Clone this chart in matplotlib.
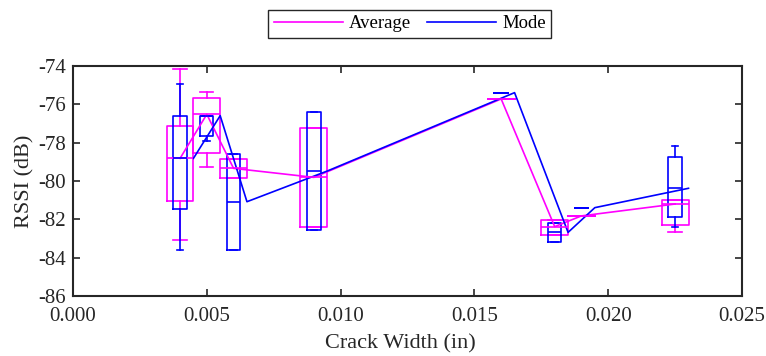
import matplotlib
matplotlib.use('Agg')
import matplotlib.pyplot as plt

# crack widths (in) for each group of measurements
widths = [0.004, 0.005, 0.006, 0.009, 0.016, 0.018, 0.019, 0.0225]

# Average RSSI boxes: whisker low, q1, median, q3, whisker high (dB)
avg_whislo = [-83.08, -79.25, -79.83, -82.42, -75.72, -82.82, -81.82, -82.66]
avg_q1     = [-81.04, -78.56, -79.83, -82.42, -75.72, -82.82, -81.82, -82.31]
avg_med    = [-78.82, -76.52, -79.34, -79.81, -75.72, -82.38, -81.82, -81.20]
avg_q3     = [-77.13, -75.65, -78.85, -77.25, -75.72, -82.03, -81.82, -81.01]
avg_whishi = [-74.16, -75.37, -78.85, -77.25, -75.72, -82.03, -81.82, -81.01]

# Mode RSSI boxes
mode_whislo = [-83.60, -77.90, -83.60, -82.57, -75.39, -83.20, -81.39, -82.38]
mode_q1     = [-81.48, -77.63, -83.60, -82.57, -75.39, -83.20, -81.39, -81.89]
mode_med    = [-78.82, -76.59, -81.08, -79.48, -75.39, -82.68, -81.39, -80.38]
mode_q3     = [-76.59, -76.59, -78.57, -76.38, -75.39, -82.17, -81.39, -78.73]
mode_whishi = [-74.96, -76.59, -78.57, -76.38, -75.39, -82.17, -81.39, -78.16]

# the mode line is drawn slightly to the right of the boxes
mode_shift = 0.0005

PINK = '#FF00FF'
BLUE = '#0000FF'
DARK = '#262626'


def make_stats(lo, q1, med, q3, hi):
    return [dict(whislo=a, q1=b, med=c, q3=d, whishi=e, fliers=[])
            for a, b, c, d, e in zip(lo, q1, med, q3, hi)]


plt.rcParams['font.family'] = ['Liberation Serif', 'DejaVu Serif']
plt.rcParams['axes.unicode_minus'] = False

fig = plt.figure(figsize=(7.66, 3.56), dpi=100)
ax = fig.add_axes([0.0953, 0.1685, 0.8734, 0.6461])

avg_stats = make_stats(avg_whislo, avg_q1, avg_med, avg_q3, avg_whishi)
mode_stats = make_stats(mode_whislo, mode_q1, mode_med, mode_q3, mode_whishi)

lw = 1.2
ax.bxp(avg_stats, positions=widths, widths=0.001, showfliers=False,
       manage_ticks=False,
       boxprops=dict(color=PINK, linewidth=lw),
       whiskerprops=dict(color=PINK, linewidth=lw),
       capprops=dict(color=PINK, linewidth=lw),
       medianprops=dict(color=PINK, linewidth=lw))
ax.bxp(mode_stats, positions=widths, widths=0.0005, showfliers=False,
       manage_ticks=False,
       boxprops=dict(color=BLUE, linewidth=lw),
       whiskerprops=dict(color=BLUE, linewidth=lw),
       capprops=dict(color=BLUE, linewidth=lw),
       medianprops=dict(color=BLUE, linewidth=lw))

ax.plot(widths, avg_med, color=PINK, linewidth=lw, label='Average')
ax.plot([w + mode_shift for w in widths], mode_med, color=BLUE,
        linewidth=lw, label='Mode')

ax.set_xlim(0, 0.025)
ax.set_ylim(-86, -74)
ax.set_xticks([0.0, 0.005, 0.010, 0.015, 0.020, 0.025])
ax.set_xticklabels(['0.000', '0.005', '0.010', '0.015', '0.020', '0.025'])
ax.set_yticks(range(-86, -73, 2))
ax.tick_params(direction='in', top=True, right=True, length=5, width=1.2,
               colors=DARK, labelcolor=DARK, labelsize=15, pad=5)
ax.tick_params(axis='x', pad=8)
for s in ax.spines.values():
    s.set_linewidth(1.5)
    s.set_color(DARK)

ax.set_xlabel('Crack Width (in)', fontsize=16, color=DARK)
ax.xaxis.set_label_coords(0.49, -0.165)
ax.set_ylabel('RSSI (dB)', fontsize=16, color=DARK, labelpad=3)

leg = ax.legend(loc='center', bbox_to_anchor=(0.535, 0.933),
                bbox_transform=fig.transFigure, ncol=2, fancybox=False,
                edgecolor=DARK, fontsize=13.5, handlelength=3.7,
                columnspacing=0.85, borderpad=0.3, handletextpad=0.3,
                framealpha=1)
leg.get_frame().set_linewidth(1.0)
for t in leg.get_texts():
    t.set_color('black')

fig.savefig('out.png', dpi=100)
